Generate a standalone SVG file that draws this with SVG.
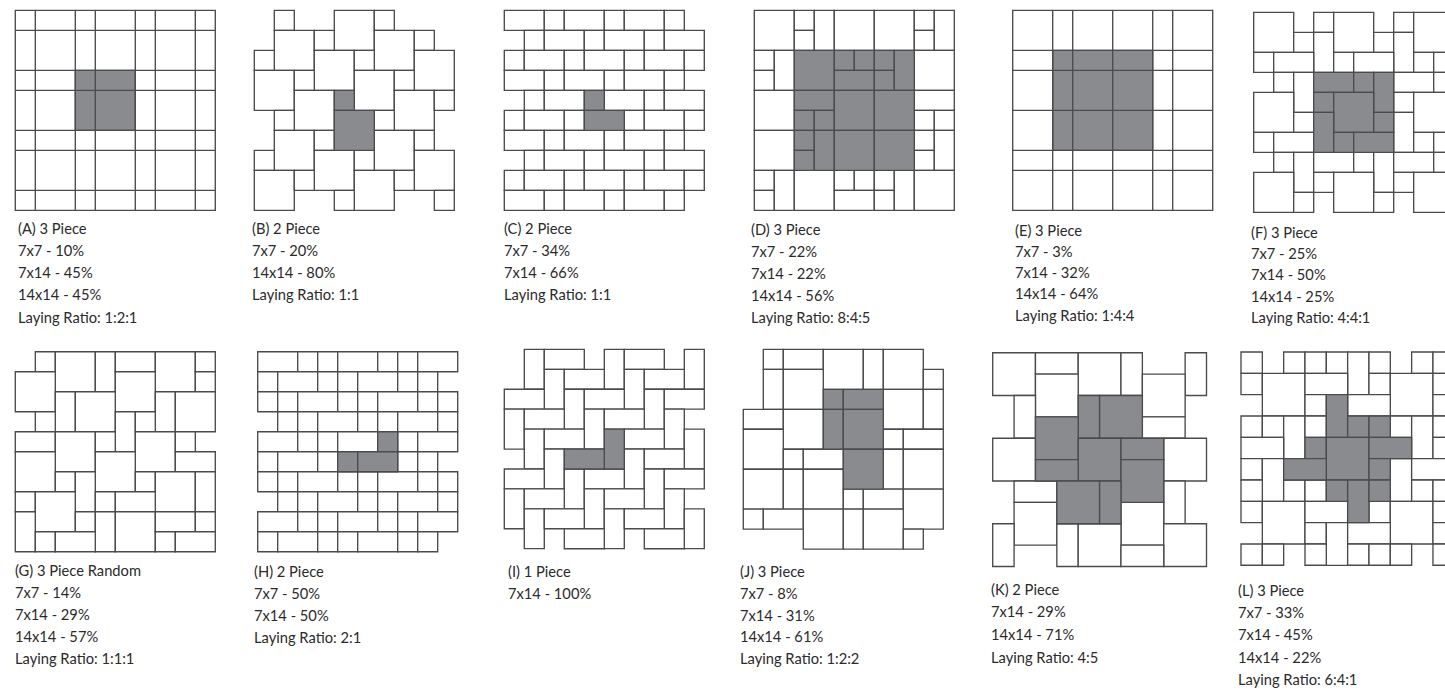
<svg xmlns="http://www.w3.org/2000/svg" width="1445" height="694" viewBox="0 0 1445 694">
<style>
.tiles{fill:#fff;stroke:#4b4b4d;stroke-width:1.35}
rect,path{vector-effect:non-scaling-stroke}
.g{fill:#8a8b8e}
.n{fill:none}
text{font-family:"Lato","Open Sans","Liberation Sans",sans-serif;font-size:14.7px;fill:#2b2a2b}
</style>
<defs>
<rect id="s" width="1" height="1"/>
<rect id="h" width="2" height="1"/>
<rect id="v" width="1" height="2"/>
<rect id="b" width="2" height="2"/>
</defs>
<rect width="1445" height="694" fill="#fff"/>

<g id="panel-a">
<g class="tiles" transform="translate(15.3 10.4) scale(20)">
<rect width="10" height="10"/>
<rect class="g" x="3" y="3" width="3" height="3"/>
<path class="n" d="M1 0V10M3 0V10M4 0V10M6 0V10M7 0V10M9 0V10M0 1H10M0 3H10M0 4H10M0 6H10M0 7H10M0 9H10"/>
</g>
<text x="18" y="234">(A) 3 Piece</text><text x="18" y="256">7x7 - 10%</text><text x="18" y="278">7x14 - 45%</text><text x="18" y="300">14x14 - 45%</text><text x="18" y="323">Laying Ratio: 1:2:1</text>
</g>

<g id="panel-b">
<g class="tiles" transform="translate(254.3 10.4) scale(20)">
<use href="#s" x="1" y="0"/><use href="#b" x="4" y="0"/><use href="#s" x="6" y="0"/>
<use href="#b" x="1" y="1"/><use href="#s" x="3" y="1"/><use href="#b" x="6" y="1"/><use href="#s" x="8" y="1"/>
<use href="#s" x="0" y="2"/><use href="#b" x="3" y="2"/><use href="#s" x="5" y="2"/><use href="#b" x="8" y="2"/>
<use href="#b" x="0" y="3"/><use href="#s" x="2" y="3"/><use href="#b" x="5" y="3"/><use href="#s" x="7" y="3"/>
<use href="#b" x="2" y="4"/><use href="#b" x="7" y="4"/><use href="#s" x="9" y="4"/>
<use href="#s" x="1" y="5"/><use href="#s" x="6" y="5"/>
<use href="#b" x="1" y="6"/><use href="#s" x="3" y="6"/><use href="#b" x="6" y="6"/><use href="#s" x="8" y="6"/>
<use href="#s" x="0" y="7"/><use href="#b" x="3" y="7"/><use href="#s" x="5" y="7"/><use href="#b" x="8" y="7"/>
<use href="#b" x="0" y="8"/><use href="#s" x="2" y="8"/><use href="#b" x="5" y="8"/><use href="#s" x="7" y="8"/>
<use href="#s" x="4" y="9"/><use href="#s" x="9" y="9"/>
<g class="g"><use href="#s" x="4" y="4"/><use href="#b" x="4" y="5"/></g>
</g>
<text x="252" y="234">(B) 2 Piece</text><text x="252" y="256">7x7 - 20%</text><text x="252" y="278">14x14 - 80%</text><text x="252" y="300">Laying Ratio: 1:1</text>
</g>

<g id="panel-c">
<g class="tiles" transform="translate(504.3 10.4) scale(20)">
<use href="#h" x="0" y="0"/><use href="#s" x="2" y="0"/><use href="#h" x="3" y="0"/><use href="#s" x="5" y="0"/><use href="#h" x="6" y="0"/><use href="#s" x="8" y="0"/>
<use href="#s" x="1" y="1"/><use href="#h" x="2" y="1"/><use href="#s" x="4" y="1"/><use href="#h" x="5" y="1"/><use href="#s" x="7" y="1"/><use href="#h" x="8" y="1"/>
<use href="#s" x="0" y="2"/><use href="#h" x="1" y="2"/><use href="#s" x="3" y="2"/><use href="#h" x="4" y="2"/><use href="#s" x="6" y="2"/><use href="#h" x="7" y="2"/><use href="#s" x="9" y="2"/>
<use href="#h" x="0" y="3"/><use href="#s" x="2" y="3"/><use href="#h" x="3" y="3"/><use href="#s" x="5" y="3"/><use href="#h" x="6" y="3"/><use href="#s" x="8" y="3"/>
<use href="#s" x="1" y="4"/><use href="#h" x="2" y="4"/><use href="#h" x="5" y="4"/><use href="#s" x="7" y="4"/><use href="#h" x="8" y="4"/>
<use href="#s" x="0" y="5"/><use href="#h" x="1" y="5"/><use href="#s" x="3" y="5"/><use href="#s" x="6" y="5"/><use href="#h" x="7" y="5"/><use href="#s" x="9" y="5"/>
<use href="#h" x="0" y="6"/><use href="#s" x="2" y="6"/><use href="#h" x="3" y="6"/><use href="#s" x="5" y="6"/><use href="#h" x="6" y="6"/><use href="#s" x="8" y="6"/>
<use href="#s" x="1" y="7"/><use href="#h" x="2" y="7"/><use href="#s" x="4" y="7"/><use href="#h" x="5" y="7"/><use href="#s" x="7" y="7"/><use href="#h" x="8" y="7"/>
<use href="#s" x="0" y="8"/><use href="#h" x="1" y="8"/><use href="#s" x="3" y="8"/><use href="#h" x="4" y="8"/><use href="#s" x="6" y="8"/><use href="#h" x="7" y="8"/><use href="#s" x="9" y="8"/>
<use href="#h" x="0" y="9"/><use href="#s" x="2" y="9"/><use href="#h" x="3" y="9"/><use href="#s" x="5" y="9"/><use href="#h" x="6" y="9"/><use href="#s" x="8" y="9"/>
<g class="g"><use href="#s" x="4" y="4"/><use href="#h" x="4" y="5"/></g>
</g>
<text x="504" y="234">(C) 2 Piece</text><text x="504" y="256">7x7 - 34%</text><text x="504" y="278">7x14 - 66%</text><text x="504" y="300">Laying Ratio: 1:1</text>
</g>

<g id="panel-d">
<g class="tiles" transform="translate(754.3 10.4) scale(20)">
<use href="#b" x="0" y="0"/><use href="#s" x="2" y="0"/><use href="#s" x="2" y="1"/><use href="#v" x="3" y="0"/><use href="#b" x="4" y="0"/><use href="#b" x="6" y="0"/><use href="#s" x="8" y="0"/><use href="#s" x="8" y="1"/><use href="#v" x="9" y="0"/>
<use href="#s" x="0" y="2"/><use href="#s" x="0" y="3"/><use href="#v" x="1" y="2"/><use href="#b" x="8" y="2"/>
<use href="#b" x="0" y="4"/><use href="#h" x="8" y="4"/><use href="#s" x="8" y="5"/><use href="#s" x="9" y="5"/>
<use href="#b" x="0" y="6"/><use href="#s" x="8" y="6"/><use href="#s" x="8" y="7"/><use href="#v" x="9" y="6"/>
<use href="#s" x="0" y="8"/><use href="#s" x="0" y="9"/><use href="#v" x="1" y="8"/><use href="#b" x="2" y="8"/><use href="#s" x="4" y="8"/><use href="#s" x="5" y="8"/><use href="#h" x="4" y="9"/><use href="#s" x="6" y="8"/><use href="#s" x="6" y="9"/><use href="#v" x="7" y="8"/><use href="#b" x="8" y="8"/>
<g class="g"><use href="#b" x="2" y="2"/><use href="#s" x="4" y="2"/><use href="#s" x="5" y="2"/><use href="#s" x="6" y="2"/><use href="#h" x="4" y="3"/><use href="#s" x="6" y="3"/><use href="#v" x="7" y="2"/>
<use href="#h" x="2" y="4"/><use href="#s" x="2" y="5"/><use href="#s" x="3" y="5"/><use href="#s" x="2" y="6"/><use href="#s" x="2" y="7"/><use href="#v" x="3" y="6"/><use href="#b" x="4" y="4"/><use href="#b" x="6" y="4"/><use href="#b" x="4" y="6"/><use href="#b" x="6" y="6"/></g>
</g>
<text x="751" y="235">(D) 3 Piece</text><text x="751" y="257">7x7 - 22%</text><text x="751" y="279">7x14 - 22%</text><text x="751" y="301">14x14 - 56%</text><text x="751" y="323">Laying Ratio: 8:4:5</text>
</g>

<g id="panel-e">
<g class="tiles" transform="translate(1012.7 10.4) scale(20)">
<rect width="10" height="10"/>
<rect class="g" x="2" y="2" width="5" height="5"/>
<path class="n" d="M2 0V10M3 0V10M5 0V10M7 0V10M8 0V10M0 2H10M0 3H10M0 5H10M0 7H10M0 8H10"/>
</g>
<text x="1015" y="236">(E) 3 Piece</text><text x="1015" y="257">7x7 - 3%</text><text x="1015" y="278">7x14 - 32%</text><text x="1015" y="299">14x14 - 64%</text><text x="1015" y="321">Laying Ratio: 1:4:4</text>
</g>

<g id="panel-f">
<g class="tiles" transform="translate(1253.7 12.3) scale(20)">
<use href="#b" x="0" y="0"/><use href="#s" x="2" y="1"/><use href="#s" x="3" y="0"/><use href="#v" x="3" y="1"/><use href="#b" x="4" y="0"/><use href="#s" x="6" y="1"/><use href="#s" x="7" y="0"/><use href="#v" x="7" y="1"/><use href="#b" x="8" y="0"/>
<use href="#s" x="0" y="2"/><use href="#h" x="1" y="2"/><use href="#s" x="4" y="2"/><use href="#h" x="5" y="2"/><use href="#s" x="8" y="2"/><use href="#h" x="9" y="2"/>
<use href="#s" x="1" y="3"/><use href="#v" x="2" y="3"/><use href="#h" x="7" y="3"/><use href="#s" x="9" y="3"/>
<use href="#b" x="0" y="4"/><use href="#s" x="2" y="5"/><use href="#s" x="7" y="4"/><use href="#v" x="7" y="5"/><use href="#b" x="8" y="4"/>
<use href="#s" x="0" y="6"/><use href="#h" x="1" y="6"/><use href="#s" x="8" y="6"/><use href="#h" x="9" y="6"/>
<use href="#s" x="1" y="7"/><use href="#v" x="2" y="7"/><use href="#h" x="3" y="7"/><use href="#s" x="5" y="7"/><use href="#v" x="6" y="7"/><use href="#h" x="7" y="7"/><use href="#s" x="9" y="7"/>
<use href="#b" x="0" y="8"/><use href="#s" x="3" y="8"/><use href="#b" x="4" y="8"/><use href="#s" x="7" y="8"/><use href="#b" x="8" y="8"/>
<use href="#s" x="2" y="9"/><use href="#s" x="6" y="9"/>
<g class="g"><use href="#h" x="3" y="3"/><use href="#s" x="5" y="3"/><use href="#v" x="6" y="3"/><use href="#s" x="3" y="4"/><use href="#b" x="4" y="4"/><use href="#s" x="6" y="5"/><use href="#v" x="3" y="5"/><use href="#s" x="4" y="6"/><use href="#h" x="5" y="6"/></g>
</g>
<text x="1251" y="238">(F) 3 Piece</text><text x="1251" y="259">7x7 - 25%</text><text x="1251" y="280">7x14 - 50%</text><text x="1251" y="302">14x14 - 25%</text><text x="1251" y="323">Laying Ratio: 4:4:1</text>
</g>

<g id="panel-g">
<g class="tiles" transform="translate(15.3 351.7) scale(20)">
<use href="#s" x="1" y="0"/><use href="#b" x="2" y="0"/><use href="#v" x="4" y="0"/><use href="#h" x="5" y="0"/><use href="#b" x="7" y="0"/><use href="#s" x="9" y="0"/>
<use href="#b" x="0" y="1"/><use href="#b" x="5" y="1"/><use href="#s" x="9" y="1"/>
<use href="#v" x="2" y="2"/><use href="#b" x="3" y="2"/><use href="#v" x="7" y="2"/><use href="#b" x="8" y="2"/>
<use href="#s" x="1" y="3"/><use href="#v" x="5" y="3"/><use href="#s" x="6" y="3"/>
<use href="#h" x="0" y="4"/><use href="#b" x="2" y="4"/><use href="#s" x="4" y="4"/><use href="#b" x="6" y="4"/><use href="#s" x="8" y="4"/>
<use href="#b" x="0" y="5"/><use href="#b" x="4" y="5"/><use href="#h" x="8" y="5"/>
<use href="#s" x="2" y="6"/><use href="#v" x="3" y="6"/><use href="#s" x="6" y="6"/><use href="#b" x="7" y="6"/><use href="#v" x="9" y="6"/>
<use href="#s" x="0" y="7"/><use href="#b" x="1" y="7"/><use href="#s" x="4" y="7"/><use href="#h" x="5" y="7"/>
<use href="#v" x="0" y="8"/><use href="#s" x="3" y="8"/><use href="#v" x="4" y="8"/><use href="#b" x="5" y="8"/><use href="#h" x="7" y="8"/><use href="#s" x="9" y="8"/>
<use href="#s" x="1" y="9"/><use href="#h" x="2" y="9"/><use href="#s" x="7" y="9"/><use href="#h" x="8" y="9"/>
</g>
<text x="15" y="576">(G) 3 Piece Random</text><text x="15" y="598">7x7 - 14%</text><text x="15" y="620">7x14 - 29%</text><text x="15" y="642">14x14 - 57%</text><text x="15" y="664">Laying Ratio: 1:1:1</text>
</g>

<g id="panel-h">
<g class="tiles" transform="translate(257.7 351.7) scale(20)">
<use href="#h" x="0" y="0"/><use href="#s" x="2" y="0"/><use href="#s" x="3" y="0"/><use href="#h" x="4" y="0"/><use href="#s" x="6" y="0"/><use href="#s" x="7" y="0"/><use href="#h" x="8" y="0"/>
<use href="#s" x="0" y="1"/><use href="#h" x="1" y="1"/><use href="#s" x="3" y="1"/><use href="#s" x="4" y="1"/><use href="#h" x="5" y="1"/><use href="#s" x="7" y="1"/><use href="#s" x="8" y="1"/>
<use href="#s" x="0" y="2"/><use href="#s" x="1" y="2"/><use href="#h" x="2" y="2"/><use href="#s" x="4" y="2"/><use href="#s" x="5" y="2"/><use href="#h" x="6" y="2"/><use href="#s" x="8" y="2"/><use href="#s" x="9" y="2"/>
<use href="#s" x="1" y="3"/><use href="#s" x="2" y="3"/><use href="#h" x="3" y="3"/><use href="#s" x="5" y="3"/><use href="#s" x="6" y="3"/><use href="#h" x="7" y="3"/><use href="#s" x="9" y="3"/>
<use href="#h" x="0" y="4"/><use href="#s" x="2" y="4"/><use href="#s" x="3" y="4"/><use href="#h" x="4" y="4"/><use href="#s" x="7" y="4"/><use href="#h" x="8" y="4"/>
<use href="#s" x="0" y="5"/><use href="#h" x="1" y="5"/><use href="#s" x="3" y="5"/><use href="#s" x="7" y="5"/><use href="#s" x="8" y="5"/>
<use href="#s" x="0" y="6"/><use href="#s" x="1" y="6"/><use href="#h" x="2" y="6"/><use href="#s" x="4" y="6"/><use href="#s" x="5" y="6"/><use href="#h" x="6" y="6"/><use href="#s" x="8" y="6"/><use href="#s" x="9" y="6"/>
<use href="#s" x="1" y="7"/><use href="#s" x="2" y="7"/><use href="#h" x="3" y="7"/><use href="#s" x="5" y="7"/><use href="#s" x="6" y="7"/><use href="#h" x="7" y="7"/><use href="#s" x="9" y="7"/>
<use href="#h" x="0" y="8"/><use href="#s" x="2" y="8"/><use href="#s" x="3" y="8"/><use href="#h" x="4" y="8"/><use href="#s" x="6" y="8"/><use href="#s" x="7" y="8"/><use href="#h" x="8" y="8"/>
<use href="#s" x="0" y="9"/><use href="#h" x="1" y="9"/><use href="#s" x="3" y="9"/><use href="#s" x="4" y="9"/><use href="#h" x="5" y="9"/><use href="#s" x="7" y="9"/><use href="#s" x="8" y="9"/>
<g class="g"><use href="#s" x="6" y="4"/><use href="#s" x="4" y="5"/><use href="#h" x="5" y="5"/></g>
</g>
<text x="254" y="577">(H) 2 Piece</text><text x="254" y="599">7x7 - 50%</text><text x="254" y="621">7x14 - 50%</text><text x="254" y="643">Laying Ratio: 2:1</text>
</g>

<g id="panel-i">
<g class="tiles" transform="translate(504.3 349.4) scale(20 19.93)">
<use href="#v" x="1" y="0"/><use href="#h" x="2" y="0"/><use href="#v" x="5" y="0"/><use href="#h" x="6" y="0"/><use href="#v" x="9" y="0"/>
<use href="#v" x="2" y="1"/><use href="#h" x="3" y="1"/><use href="#v" x="6" y="1"/><use href="#h" x="7" y="1"/>
<use href="#h" x="0" y="2"/><use href="#v" x="3" y="2"/><use href="#h" x="4" y="2"/><use href="#v" x="7" y="2"/><use href="#h" x="8" y="2"/>
<use href="#v" x="0" y="3"/><use href="#h" x="1" y="3"/><use href="#v" x="4" y="3"/><use href="#h" x="5" y="3"/><use href="#v" x="8" y="3"/>
<use href="#v" x="1" y="4"/><use href="#h" x="2" y="4"/><use href="#h" x="6" y="4"/><use href="#v" x="9" y="4"/>
<use href="#v" x="2" y="5"/><use href="#v" x="6" y="5"/><use href="#h" x="7" y="5"/>
<use href="#h" x="0" y="6"/><use href="#v" x="3" y="6"/><use href="#h" x="4" y="6"/><use href="#v" x="7" y="6"/><use href="#h" x="8" y="6"/>
<use href="#v" x="0" y="7"/><use href="#h" x="1" y="7"/><use href="#v" x="4" y="7"/><use href="#h" x="5" y="7"/><use href="#v" x="8" y="7"/>
<use href="#v" x="1" y="8"/><use href="#h" x="2" y="8"/><use href="#v" x="5" y="8"/><use href="#h" x="6" y="8"/><use href="#v" x="9" y="8"/>
<use href="#h" x="3" y="9"/><use href="#h" x="7" y="9"/>
<g class="g"><use href="#v" x="5" y="4"/><use href="#h" x="3" y="5"/></g>
</g>
<text x="508" y="577">(I) 1 Piece</text><text x="508" y="599">7x14 - 100%</text>
</g>

<g id="panel-j">
<g class="tiles" transform="translate(743.3 349.4) scale(20 19.97)">
<use href="#s" x="1" y="0"/><use href="#h" x="2" y="0"/><use href="#b" x="4" y="0"/><use href="#v" x="6" y="0"/><use href="#b" x="7" y="0"/>
<use href="#v" x="1" y="1"/><use href="#b" x="2" y="1"/><use href="#s" x="9" y="1"/>
<use href="#b" x="7" y="2"/><use href="#v" x="9" y="2"/>
<use href="#h" x="0" y="3"/><use href="#b" x="2" y="3"/>
<use href="#b" x="0" y="4"/><use href="#s" x="7" y="4"/><use href="#h" x="8" y="4"/>
<use href="#s" x="2" y="5"/><use href="#h" x="3" y="5"/><use href="#v" x="7" y="5"/><use href="#b" x="8" y="5"/>
<use href="#b" x="0" y="6"/><use href="#v" x="2" y="6"/><use href="#b" x="3" y="6"/>
<use href="#s" x="5" y="7"/><use href="#h" x="6" y="7"/><use href="#b" x="8" y="7"/>
<use href="#s" x="0" y="8"/><use href="#h" x="1" y="8"/><use href="#b" x="3" y="8"/><use href="#v" x="5" y="8"/><use href="#b" x="6" y="8"/>
<use href="#s" x="8" y="9"/>
<g class="g"><use href="#s" x="4" y="2"/><use href="#v" x="4" y="3"/><use href="#h" x="5" y="2"/><use href="#b" x="5" y="3"/><use href="#b" x="5" y="5"/></g>
</g>
<text x="740" y="577">(J) 3 Piece</text><text x="740" y="599">7x7 - 8%</text><text x="740" y="621">7x14 - 31%</text><text x="740" y="642">14x14 - 61%</text><text x="740" y="664">Laying Ratio: 1:2:2</text>
</g>

<g id="panel-k">
<g class="tiles" transform="translate(992.7 352.7) scale(21.38)">
<use href="#b" x="0" y="0"/><use href="#h" x="2" y="0"/><use href="#b" x="4" y="0"/><use href="#v" x="6" y="0"/><use href="#v" x="9" y="0"/>
<use href="#b" x="2" y="1"/><use href="#b" x="7" y="1"/>
<use href="#v" x="1" y="2"/><use href="#h" x="7" y="3"/>
<use href="#b" x="0" y="4"/><use href="#b" x="8" y="4"/>
<use href="#h" x="1" y="6"/><use href="#v" x="8" y="6"/>
<use href="#b" x="1" y="7"/><use href="#b" x="6" y="7"/>
<use href="#v" x="0" y="8"/><use href="#v" x="3" y="8"/><use href="#b" x="4" y="8"/><use href="#b" x="8" y="8"/>
<use href="#h" x="6" y="9"/>
<g class="g"><use href="#v" x="4" y="2"/><use href="#b" x="5" y="2"/><use href="#b" x="2" y="3"/><use href="#b" x="4" y="4"/><use href="#h" x="6" y="4"/><use href="#h" x="2" y="5"/><use href="#b" x="6" y="5"/><use href="#b" x="3" y="6"/><use href="#v" x="5" y="6"/></g>
</g>
<text x="991" y="595">(K) 2 Piece</text><text x="991" y="617">7x14 - 29%</text><text x="991" y="640">14x14 - 71%</text><text x="991" y="663">Laying Ratio: 4:5</text>
</g>

<g id="panel-l">
<g class="tiles" transform="translate(1241 352) scale(21.33)">
<use href="#s" x="0" y="0"/><use href="#s" x="2" y="0"/><use href="#s" x="3" y="0"/><use href="#s" x="4" y="0"/><use href="#v" x="5" y="0"/><use href="#s" x="6" y="0"/><use href="#s" x="8" y="0"/><use href="#s" x="9" y="0"/>
<use href="#s" x="0" y="1"/><use href="#b" x="1" y="1"/><use href="#h" x="3" y="1"/><use href="#s" x="6" y="1"/><use href="#b" x="7" y="1"/><use href="#s" x="9" y="1"/>
<use href="#s" x="3" y="2"/><use href="#h" x="5" y="2"/><use href="#s" x="9" y="2"/>
<use href="#s" x="0" y="3"/><use href="#s" x="1" y="3"/><use href="#v" x="2" y="3"/><use href="#s" x="3" y="3"/><use href="#s" x="7" y="3"/><use href="#v" x="8" y="3"/><use href="#s" x="9" y="3"/>
<use href="#h" x="0" y="4"/><use href="#h" x="9" y="4"/>
<use href="#s" x="0" y="5"/><use href="#v" x="1" y="5"/><use href="#v" x="7" y="5"/><use href="#h" x="8" y="5"/>
<use href="#s" x="0" y="6"/><use href="#s" x="2" y="6"/><use href="#s" x="3" y="6"/><use href="#s" x="8" y="6"/><use href="#s" x="9" y="6"/>
<use href="#s" x="0" y="7"/><use href="#b" x="1" y="7"/><use href="#h" x="3" y="7"/><use href="#s" x="6" y="7"/><use href="#b" x="7" y="7"/><use href="#s" x="9" y="7"/>
<use href="#s" x="3" y="8"/><use href="#v" x="4" y="8"/><use href="#h" x="5" y="8"/><use href="#s" x="9" y="8"/>
<use href="#s" x="0" y="9"/><use href="#s" x="1" y="9"/><use href="#s" x="3" y="9"/><use href="#s" x="5" y="9"/><use href="#s" x="6" y="9"/><use href="#s" x="7" y="9"/><use href="#s" x="9" y="9"/>
<g class="g"><use href="#v" x="4" y="2"/><use href="#s" x="5" y="3"/><use href="#s" x="6" y="3"/><use href="#s" x="3" y="4"/><use href="#b" x="4" y="4"/><use href="#h" x="6" y="4"/><use href="#h" x="2" y="5"/><use href="#s" x="6" y="5"/><use href="#s" x="4" y="6"/><use href="#v" x="5" y="6"/><use href="#s" x="6" y="6"/></g>
</g>
<text x="1238" y="596">(L) 3 Piece</text><text x="1238" y="618">7x7 - 33%</text><text x="1238" y="640">7x14 - 45%</text><text x="1238" y="663">14x14 - 22%</text><text x="1238" y="685">Laying Ratio: 6:4:1</text>
</g>
</svg>
